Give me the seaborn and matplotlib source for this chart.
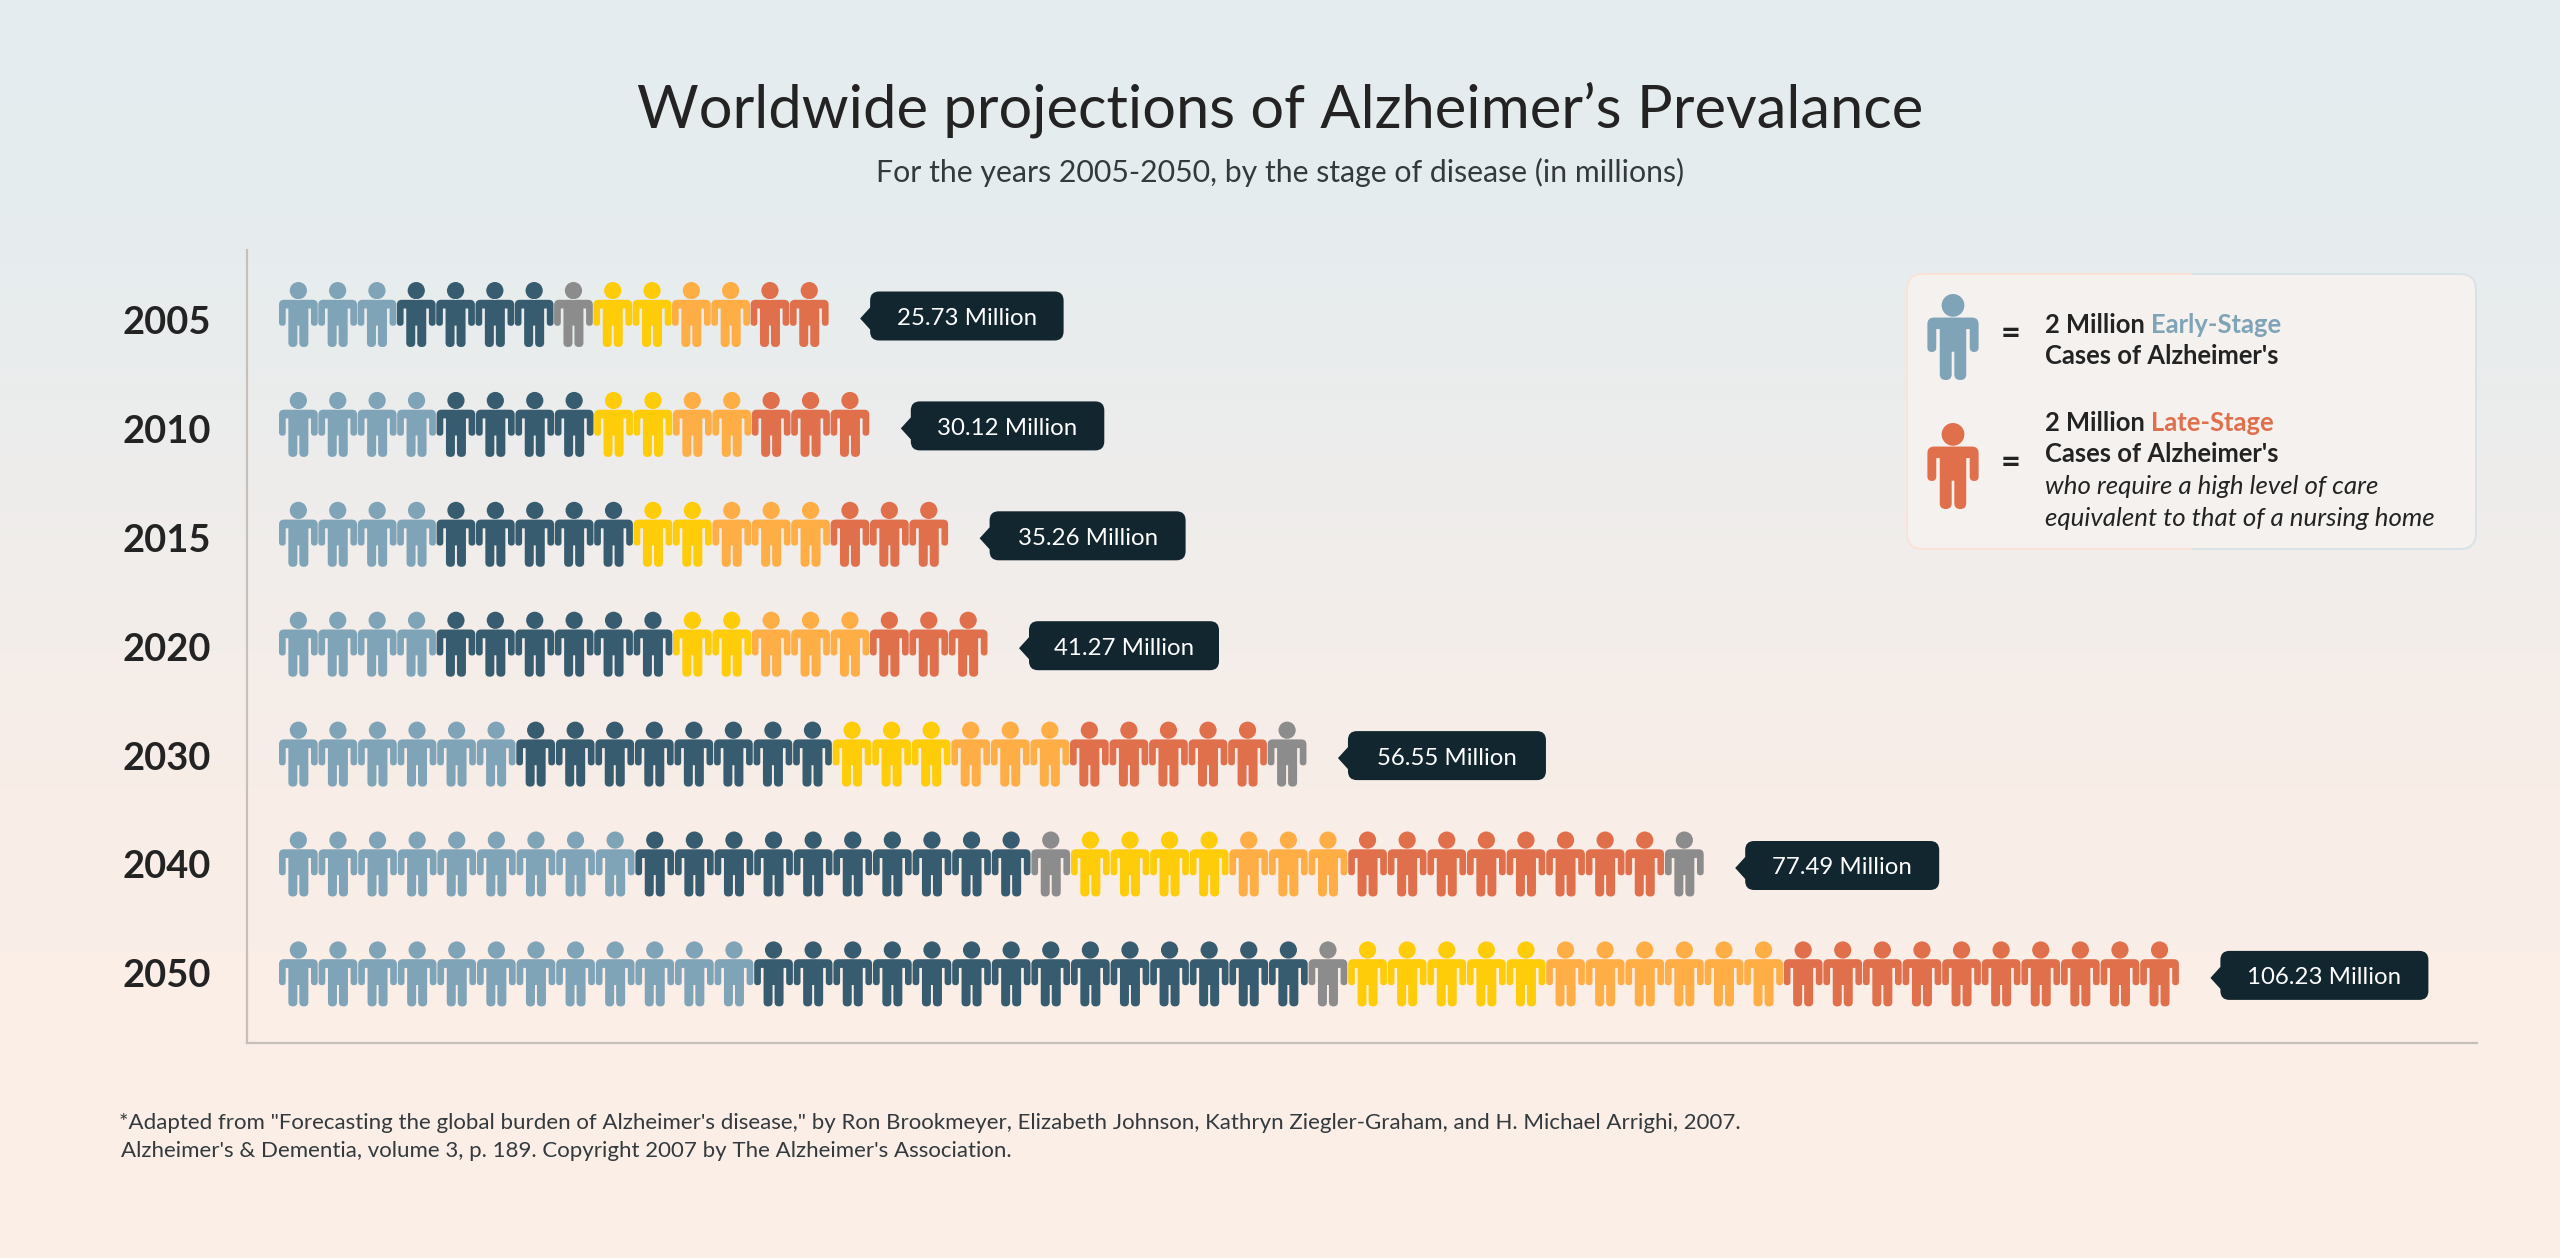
import numpy as np
import pandas as pd
import matplotlib
matplotlib.use("Agg")
import matplotlib.pyplot as plt
from matplotlib.path import Path
from matplotlib.patches import FancyBboxPatch, Rectangle
from matplotlib.transforms import ScaledTranslation
import seaborn as sns

# Icon counts per year; every icon stands for two million cases.
YEARS = ["2005", "2010", "2015", "2020", "2030", "2040", "2050"]
EARLY_LIGHT = [3, 4, 4, 4, 6, 9, 12]
EARLY_DARK = [4, 4, 5, 6, 8, 10, 14]
MID_GRAY = [1, 0, 0, 0, 0, 1, 1]
YELLOW = [2, 2, 2, 2, 3, 4, 5]
ORANGE = [2, 2, 3, 3, 3, 3, 6]
LATE_RED = [2, 3, 3, 3, 5, 8, 10]
END_GRAY = [0, 0, 0, 0, 1, 1, 0]
TOTAL_LABELS = ["25.73 Million", "30.12 Million", "35.26 Million", "41.27 Million",
                "56.55 Million", "77.49 Million", "106.23 Million"]
MILLIONS_PER_ICON = 2

PALETTE = {"early_light": "#7FA3B7", "early_dark": "#375C6F", "gray": "#8C8C8C",
           "yellow": "#FFCC09", "orange": "#FFAD45", "late_red": "#E06F4C"}
SEGMENTS = [("early_light", EARLY_LIGHT), ("early_dark", EARLY_DARK), ("gray", MID_GRAY),
            ("yellow", YELLOW), ("orange", ORANGE), ("late_red", LATE_RED), ("gray", END_GRAY)]

W, H = 2560, 1258
DPI = 100
PX = 72 / DPI  # points per pixel
FONT = "Lato"
INK = "#232323"

# Slight per-row variation of icon spacing, in pixels
ROW_PITCH = [39.3, 39.4, 39.4, 39.4, 39.55, 39.6, 39.6]
BASE_PITCH = 39.5
CALLOUT_WIDTHS = [193.5, 193.5, 196, 190, 198, 194, 208]


def rounded_polygon(corners):
    """Closed path through (x, y, radius) corners, with rounded joins."""
    verts, codes = [], []
    n = len(corners)
    for i, (x, y, r) in enumerate(corners):
        p = np.array([x, y], float)
        prev = np.array(corners[i - 1][:2], float)
        nxt = np.array(corners[(i + 1) % n][:2], float)
        a = p + (prev - p) / np.linalg.norm(prev - p) * r
        b = p + (nxt - p) / np.linalg.norm(nxt - p) * r
        verts.append(a)
        codes.append(Path.MOVETO if i == 0 else Path.LINETO)
        if r > 0:
            verts += [p, b]
            codes += [Path.CURVE3, Path.CURVE3]
    verts.append(verts[0])
    codes.append(Path.CLOSEPOLY)
    return Path(np.array(verts), codes)


def person_marker():
    """Pictogram outline, y up, centred on the origin; units are pixels at row size."""
    half_h = 32.5
    sx, arm, torso, gap = 19.35, 6.7, 10.0, 1.0
    top, pit, arm_end, crotch = half_h - 17.8, half_h - 26.5, half_h - 43.8, half_h - 43.6
    foot = -half_h
    right = [(sx, top, 5), (sx, arm_end, 3.3), (sx - arm, arm_end, 3.3),
             (sx - arm, pit, 0), (torso, pit, 0), (torso, foot, 4.4), (gap, foot, 4.4), (gap, crotch, 0)]
    left = [(-x, y, r) for x, y, r in reversed(right)]
    body = rounded_polygon(right + left)
    head = Path.circle((0, half_h - 8.6), 8.6)
    return Path.make_compound_path(head, body)


def callout(box_w, box_h=49, radius=9, drop=2.5):
    """Rounded label box with a small pointer on the left edge (pixel units)."""
    def style(x0, y0, width, height, mutation_size):
        cx, cy = x0 + width / 2, y0 + height / 2 + drop
        l, r, b, t = cx - box_w / 2, cx + box_w / 2, cy - box_h / 2, cy + box_h / 2
        tip_y = cy - 2.5
        verts = [(l + radius, b), (r - radius, b), (r, b), (r, b + radius), (r, t - radius), (r, t),
                 (r - radius, t), (l + radius, t), (l, t), (l, t - radius), (l, tip_y + 11),
                 (l - 10, tip_y), (l, tip_y - 11), (l, b + radius), (l, b), (l + radius, b), (l + radius, b)]
        codes = [Path.MOVETO, Path.LINETO, Path.CURVE3, Path.CURVE3, Path.LINETO, Path.CURVE3, Path.CURVE3,
                 Path.LINETO, Path.CURVE3, Path.CURVE3, Path.LINETO, Path.LINETO, Path.LINETO, Path.LINETO,
                 Path.CURVE3, Path.CURVE3, Path.CLOSEPOLY]
        return Path(verts, codes)
    return style


# One row of the table per icon, x measured in millions of cases
records = []
for row, year in enumerate(YEARS):
    slot = 0
    stretch = ROW_PITCH[row] / BASE_PITCH
    for stage, counts in SEGMENTS:
        for _ in range(counts[row]):
            records.append({"year": year, "stage": stage,
                            "millions": slot * MILLIONS_PER_ICON * stretch})
            slot += 1
icons = pd.DataFrame(records)

sns.set_theme(style="white", rc={"axes.facecolor": "none", "figure.facecolor": "white"})
plt.rcParams["font.family"] = [FONT, "DejaVu Sans"]

fig = plt.figure(figsize=(W / DPI, H / DPI), dpi=DPI)

# Vertical background wash, cool at the top easing into warm at the bottom
bg_ax = fig.add_axes([0, 0, 1, 1], zorder=0)
cool, warm = np.array([229, 236, 239]) / 255, np.array([250, 238, 231]) / 255
t = np.clip((np.arange(H) - 100) / 850, 0, 1)
t = t * t * (3 - 2 * t)
wash = (cool[None, :] * (1 - t[:, None]) + warm[None, :] * t[:, None])[:, None, :]
bg_ax.imshow(wash, aspect="auto", extent=(0, 1, 1, 0))
bg_ax.axis("off")

# Main pictogram axes
left, right, top, bottom = 247, 2477, 250, 1042.5
ax = fig.add_axes([left / W, 1 - bottom / H, (right - left) / W, (bottom - top) / H], zorder=1)
marker = person_marker()
sns.scatterplot(data=icons, x="millions", y="year", hue="stage", palette=PALETTE,
                marker=marker, s=(65 * PX) ** 2, linewidth=0, edgecolor="none",
                legend=False, ax=ax, clip_on=False)

px_per_million = BASE_PITCH / MILLIONS_PER_ICON
first_center = 298.35
ax.set_xlim(-(first_center - left) / px_per_million, (right - first_center) / px_per_million)
row_step, row0 = 109.9, 314.5
ax.set_ylim((bottom - row0) / row_step, (top - row0) / row_step)
ax.set_xlabel("")
ax.set_ylabel("")
ax.set_xticks([])
ax.set_yticks(range(len(YEARS)), YEARS)
ax.tick_params(axis="y", length=0, pad=36 * PX)
for row, lab in enumerate(ax.get_yticklabels()):
    lab.set_fontsize(38 * PX)
    lab.set_fontweight("bold")
    lab.set_color(INK)
    # Year labels sit on a slightly tighter rhythm than the icon rows
    lab.set_transform(lab.get_transform() + ScaledTranslation(0, -(5.5 - row) / DPI, fig.dpi_scale_trans))
for side in ("top", "right"):
    ax.spines[side].set_visible(False)
for side in ("left", "bottom"):
    ax.spines[side].set_color("#C7BFB9")
    ax.spines[side].set_linewidth(2.2 * PX)

# Total labels beside each row
half_icon_px = 19.35
for row, year in enumerate(YEARS):
    n = icons.query("year == @year")
    last = n["millions"].max()
    w = CALLOUT_WIDTHS[row]
    dx = (half_icon_px + 41.5 + w / 2) * PX
    ax.annotate(TOTAL_LABELS[row], xy=(last, row), xytext=(dx, -4 * PX), textcoords="offset points",
                ha="center", va="center", color="white", fontsize=24 * PX, annotation_clip=False,
                bbox=dict(boxstyle=callout(w), fc="#12262F", ec="none"))

# Overlay in pixel coordinates for titles, legend and source note
ov = fig.add_axes([0, 0, 1, 1], zorder=2)
ov.set_xlim(0, W)
ov.set_ylim(H, 0)
ov.axis("off")
ov.patch.set_alpha(0)

ov.text(1280, 110, "Worldwide projections of Alzheimer\u2019s Prevalance", ha="center", va="center",
        fontsize=59.7 * PX, color=INK)
ov.text(1280, 172.5, "For the years 2005-2050, by the stage of disease (in millions)", ha="center", va="center",
        fontsize=30.3 * PX, color="#33393C")
ov.text(119, 1123, "*Adapted from \"Forecasting the global burden of Alzheimer's disease,\" by Ron Brookmeyer, "
        "Elizabeth Johnson, Kathryn Ziegler-Graham, and H. Michael Arrighi, 2007.", va="center",
        fontsize=22.28 * PX, color="#33393C")
ov.text(121, 1151, "Alzheimer's & Dementia, volume 3, p. 189. Copyright 2007 by The Alzheimer's Association.",
        va="center", fontsize=22.28 * PX, color="#33393C")

# Legend card: the border fades from warm on the left to cool on the right
card = dict(boxstyle="round,pad=0,rounding_size=16", linewidth=2 * PX)
ov.add_patch(FancyBboxPatch((1907, 274), 569, 275, fc="#F4F1EE", ec="none", **card))
for edge, x0, x1 in (("#FBE2D6", 1900, 2192), ("#D8E3E8", 2192, 2485)):
    border = FancyBboxPatch((1907, 274), 569, 275, fc="none", ec=edge, **card)
    ov.add_patch(border)
    border.set_clip_path(Rectangle((x0, 260), x1 - x0, 300, transform=ov.transData))

key = pd.DataFrame({"x": [1953, 1953], "y": [337, 466], "stage": ["early_light", "late_red"]})
sns.scatterplot(data=key, x="x", y="y", hue="stage", palette=PALETTE, marker=marker, s=(86 * PX) ** 2,
                linewidth=0, edgecolor="none", legend=False, ax=ov)
ov.set_xlabel("")
ov.set_ylabel("")
ov.set_xlim(0, W)
ov.set_ylim(H, 0)

for y in (334, 463):
    ov.text(2011, y, "=", ha="center", va="center", fontsize=34 * PX, fontweight="bold", color=INK)

LEGEND_SIZE = 25.5 * PX


def legend_line(y, plain, colored=None, color=None):
    head = ov.text(2045, y + 2, plain, va="center", fontsize=LEGEND_SIZE, fontweight="bold", color=INK)
    if colored:
        ov.annotate(colored, xy=(1, 0.5), xycoords=head, xytext=(6.5 * PX, 0), textcoords="offset points",
                    va="center", fontsize=LEGEND_SIZE, fontweight="bold", color=color)


legend_line(323, "2 Million", "Early-Stage", PALETTE["early_light"])
legend_line(354, "Cases of Alzheimer's")
legend_line(421, "2 Million", "Late-Stage", PALETTE["late_red"])
legend_line(452, "Cases of Alzheimer's")
ov.text(2045, 486, "who require a high level of care", va="center", fontsize=25.9 * PX, style="italic", color=INK)
ov.text(2045, 518, "equivalent to that of a nursing home", va="center", fontsize=25.9 * PX, style="italic", color=INK)

fig.savefig("out.png", dpi=DPI)
